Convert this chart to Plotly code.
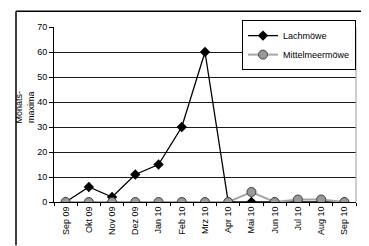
import plotly.graph_objects as go

months = ["Sep 09", "Okt 09", "Nov 09", "Dez 09", "Jan 10", "Feb 10", "Mrz 10",
          "Apr 10", "Mai 10", "Jun 10", "Jul 10", "Aug 10", "Sep 10"]
lachmoewe = [0, 6, 2, 11, 15, 30, 60, 0, 0, 0, 0, 0, 0]
mittelmeermoewe = [0, 0, 0, 0, 0, 0, 0, 0, 4, 0, 1, 1, 0]
y_ticks = [0, 10, 20, 30, 40, 50, 60, 70]

FONT = "Liberation Sans, Arial, sans-serif"

fig = go.Figure()
fig.add_trace(go.Scatter(
    x=months, y=lachmoewe, name="Lachmöwe", mode="lines+markers",
    line=dict(color="#000000", width=1.3),
    marker=dict(symbol="diamond", size=8, color="#000000"),
))
fig.add_trace(go.Scatter(
    x=months, y=mittelmeermoewe, name="Mittelmeermöwe", mode="lines+markers",
    line=dict(color="#a6a6a6", width=2),
    marker=dict(symbol="circle", size=9, color="#999999",
                line=dict(color="#404040", width=1)),
))

# page body has an 8px margin; the figure is placed at (8, 8) in the window
OFF = 8
W, H = 369 - OFF, 246 - OFF
L, R, T, B = 54 - OFF, 13, 24 - OFF, 44
pw, ph = W - L - R, H - T - B

def px(x):
    return (x - OFF - L) / pw

def py(y):
    return (H - B - (y - OFF)) / ph

fig.update_layout(
    width=W, height=H,
    margin=dict(l=L, r=R, t=T, b=B, pad=0),
    paper_bgcolor="white", plot_bgcolor="white",
    font=dict(family=FONT, size=9, color="#000000"),
    showlegend=True,
    legend=dict(
        x=px(356), y=py(17), xanchor="right", yanchor="top",
        bgcolor="white", bordercolor="#000000", borderwidth=1,
        font=dict(family=FONT, size=9, color="#000000"),
        itemwidth=30, tracegroupgap=0,
    ),
    xaxis=dict(
        type="category", range=[-0.5, len(months) - 0.5],
        tickangle=-90, tickfont=dict(size=9),
        ticks="outside", ticklen=3, tickcolor="#000000",
        tickson="boundaries",
        showline=True, linecolor="#000000", linewidth=1,
        showgrid=False, zeroline=False,
    ),
    yaxis=dict(
        range=[0, 70], tickvals=y_ticks, tickfont=dict(size=9),
        ticks="outside", ticklen=4, tickcolor="#000000",
        showline=True, linecolor="#000000", linewidth=1,
        showgrid=True, gridcolor="#1a1a1a", gridwidth=1,
        zeroline=False,
    ),
    annotations=[
        dict(text="Monats-<br>maxima", xref="paper", yref="paper",
             x=px(25), y=py(106), xanchor="center", yanchor="middle",
             textangle=-90, showarrow=False,
             font=dict(family=FONT, size=9, color="#000000")),
    ],
    shapes=[
        # outer chart frame (top and left)
        dict(type="line", xref="paper", yref="paper",
             x0=px(16), x1=px(369), y0=py(8), y1=py(8),
             line=dict(color="#000000", width=1.5)),
        dict(type="line", xref="paper", yref="paper",
             x0=px(16), x1=px(16), y0=py(8), y1=py(246),
             line=dict(color="#000000", width=1.5)),
        # plot area right border
        dict(type="line", xref="paper", yref="paper",
             x0=1, x1=1, y0=0, y1=1,
             line=dict(color="#a0a0a0", width=1)),
    ],
)

fig.write_html("out.html")
